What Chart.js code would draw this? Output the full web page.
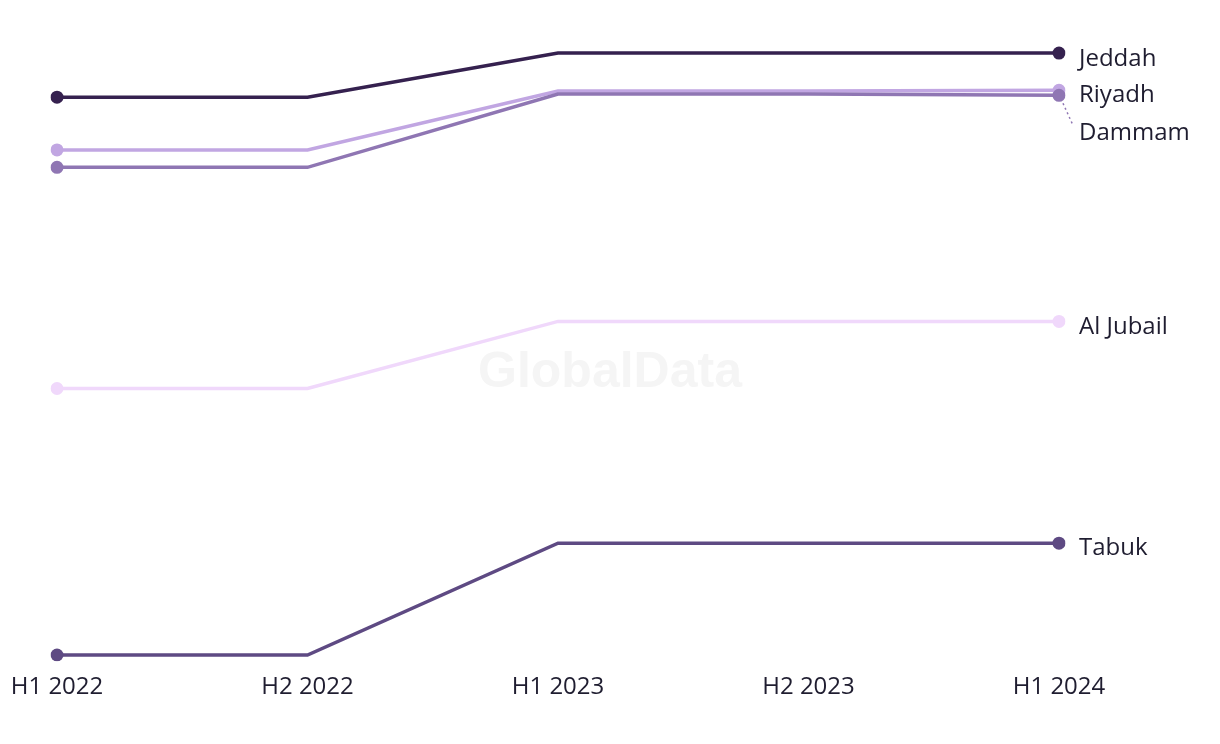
<!DOCTYPE html>
<html>
<head>
<meta charset="utf-8">
<title>Cities</title>
<script src="https://cdn.jsdelivr.net/npm/chart.js@4/dist/chart.umd.min.js"></script>
<style>
  body { margin: 0; background: #fff; }
  #wrap { width: 1220px; height: 744px; position: relative; }
</style>
</head>
<body>
<div id="wrap"><canvas id="grafico"></canvas></div>
<script>
const periodos = ['H1 2022', 'H2 2022', 'H1 2023', 'H2 2023', 'H1 2024'];
const ciudades = ['Jeddah', 'Riyadh', 'Dammam', 'Al Jubail', 'Tabuk'];

const jeddah   = [90.8, 90.8, 97.9, 97.9, 97.9];
const riyadh   = [82.3, 82.3, 91.8, 91.8, 91.9];
const dammam   = [79.5, 79.5, 91.3, 91.3, 91.1];
const alJubail = [43.9, 43.9, 54.7, 54.7, 54.7];
const tabuk    = [1.0, 1.0, 19.0, 19.0, 19.0];

const series = [jeddah, riyadh, dammam, alJubail, tabuk];
const colores = ['#35214f', '#c1a6e2', '#8f76b3', '#f0d8fb', '#5e4a83'];
const orden = [0, 2, 1, 3, 4];
// vertical nudge of the end labels
const desplazar = [6, 5, 38, 6, 5];

const fuente = '"Open Sans", sans-serif';

const etiquetasFinales = {
  id: 'etiquetasFinales',
  beforeDatasetsDraw(chart) {
    const ctx = chart.ctx;
    ctx.save();
    ctx.font = 'bold 50px "Liberation Sans", Arial, sans-serif';
    ctx.fillStyle = '#f5f5f5';
    ctx.textAlign = 'center';
    ctx.textBaseline = 'middle';
    ctx.fillText('GlobalData', 610, 373);
    ctx.restore();
  },
  afterDatasetsDraw(chart) {
    const ctx = chart.ctx;
    ctx.save();
    ctx.font = '24px ' + fuente;
    ctx.fillStyle = '#1f1d30';
    ctx.textAlign = 'left';
    ctx.textBaseline = 'middle';
    chart.data.datasets.forEach((ds, i) => {
      const meta = chart.getDatasetMeta(i);
      const p = meta.data[meta.data.length - 1];
      const dy = desplazar[i];
      if (dy > 20) {
        ctx.strokeStyle = ds.borderColor;
        ctx.lineWidth = 1.5;
        ctx.setLineDash([2, 3]);
        ctx.beginPath();
        ctx.moveTo(p.x + 4, p.y + 8);
        ctx.lineTo(p.x + 14, p.y + dy - 8);
        ctx.stroke();
        ctx.setLineDash([]);
      }
      ctx.fillText(ds.label, p.x + 20, p.y + dy);
    });
    ctx.restore();
  }
};

const ctx = document.getElementById('grafico').getContext('2d');

new Chart(ctx, {
  type: 'line',
  data: {
    labels: periodos,
    datasets: series.map((valores, i) => ({
      label: ciudades[i],
      data: valores,
      borderColor: colores[i],
      backgroundColor: colores[i],
      borderWidth: 3.5,
      pointRadius: [6.5, 0, 0, 0, 6.5],
      pointHoverRadius: 0,
      pointBorderWidth: 0,
      tension: 0,
      order: orden[i]
    }))
  },
  options: {
    responsive: true,
    maintainAspectRatio: false,
    animation: false,
    layout: { padding: { left: 57, right: 161, top: 40, bottom: 38 } },
    plugins: {
      legend: { display: false },
      tooltip: { enabled: false }
    },
    scales: {
      x: {
        grid: { display: false },
        border: { display: false },
        ticks: {
          color: '#1f1d30',
          font: { family: fuente, size: 24 },
          padding: 4,
          maxRotation: 0
        }
      },
      y: {
        display: false,
        min: 0,
        max: 100
      }
    }
  },
  plugins: [etiquetasFinales]
});
</script>
</body>
</html>
